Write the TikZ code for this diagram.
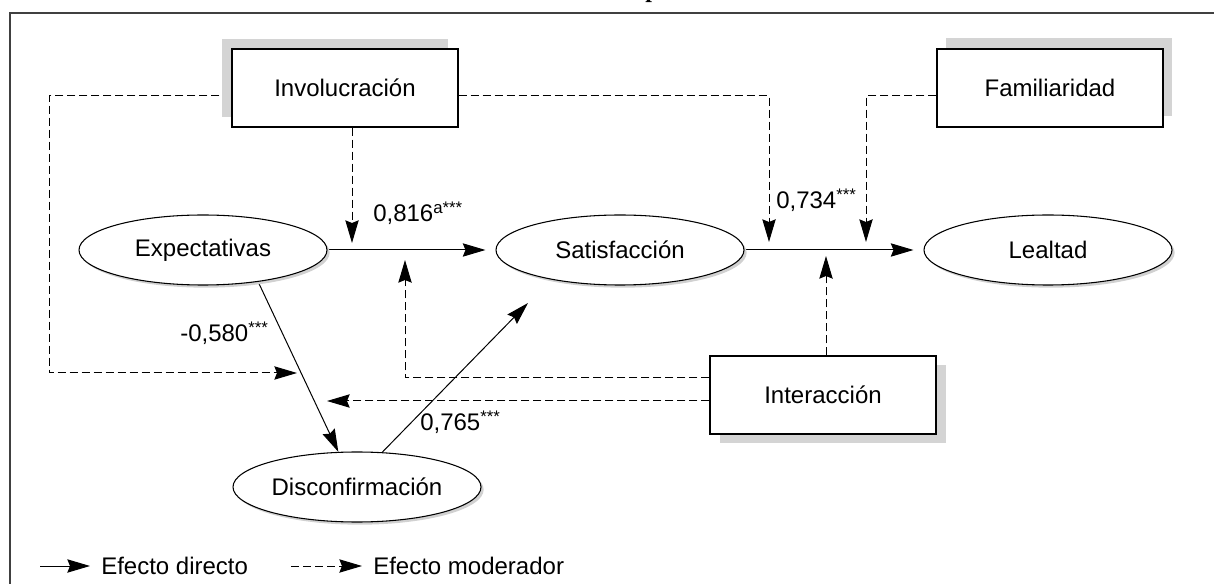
\documentclass[tikz,border=0pt]{standalone}
\usepackage{fontspec}
\setmainfont{Liberation Sans}
\newfontfamily\titlefont{Liberation Serif}
\usetikzlibrary{arrows.meta,shapes.geometric,shadows,backgrounds}

\begin{document}
\begin{tikzpicture}[x=0.75pt, y=-0.75pt,
    every node/.style={font=\fontsize{18}{21}\selectfont},
    box/.style={draw, line width=0.9pt, fill=white, minimum width=169.5pt, minimum height=58.5pt, inner sep=0pt},
    var/.style={ellipse, draw, line width=0.8pt, fill=white, minimum width=186pt, minimum height=52.5pt, inner sep=0pt,
        drop shadow={shadow xshift=2pt, shadow yshift=-2pt, fill=black!18, opacity=1}},
    direct/.style={line width=0.75pt, -{Stealth[length=17pt, width=10pt, inset=2pt]}},
    moder/.style={direct, dash pattern=on 6pt off 3pt},
    coef/.style={anchor=base west, inner sep=0pt}]
    \useasboundingbox (0,0) rectangle (1214,584);

    % marco
    \draw [black!75, line width=1.1pt] (10,584) -- (10,13) -- (1214,13);
    \node [anchor=base west, inner sep=0pt, font=\titlefont\bfseries\fontsize{18}{21}\selectfont] (title) at (645,-2){p};

    % moderadores
    \node [box, drop shadow={shadow xshift=-7.5pt, shadow yshift=7.5pt, fill=black!17, opacity=1}] (inv) at (345,88){Involucración};
    \node [box, drop shadow={shadow xshift=6.75pt, shadow yshift=8.25pt, fill=black!17, opacity=1}] (fam) at (1050,88){Familiaridad};
    \node [box, drop shadow={shadow xshift=7.5pt, shadow yshift=-7pt, fill=black!17, opacity=1}] (inter) at (823,395){Interacción};

    % variables
    \node [var] (exp) at (203,250){Expectativas};
    \node [var] (sat) at (620,250){Satisfacción};
    \node [var] (leal) at (1048,250){Lealtad};
    \node [var] (dis) at (357,487){Disconfirmación};

    \coordinate (m1) at (352,243);
    \coordinate (m2) at (769,242);
    \coordinate (m3) at (866,242);
    \coordinate (m4) at (826,256);
    \coordinate (m5) at (297,373);
    \coordinate (m6) at (405,260);
    \coordinate (m7) at (327,401);
    \coordinate (tipsat) at (528,303);

    \begin{scope}[on background layer]
        % efectos directos
        \draw [direct, shorten >=7.5pt] (exp.east) -- (sat.west);
        \draw [direct, shorten >=7.5pt] (sat.east) -- (leal.west);
        \draw [direct] (exp.330) -- (dis.118);
        \draw [direct] (dis.54) -- (tipsat);

        % efectos moderadores
        \draw [moder] (inv.south -| m1) -- (m1);
        \draw [moder] ([yshift=-6pt]inv.west) -- (49,96) |- (m5);
        \draw [moder] ([yshift=-6pt]inv.east) -| (m2);
        \draw [moder] ([yshift=-6pt]fam.west) -| (m3);
        \draw [moder] (inter.north -| m4) -- (m4);
        \draw [moder] ([yshift=12.75pt]inter.west) -| (m6);
        \draw [moder] ([yshift=-4.5pt]inter.west) -- (m7);
    \end{scope}

    % coeficientes
    \node [coef] (c1) at (373,222){0,816\textsuperscript{a***}};
    \node [coef] (c2) at (776,209){0,734\textsuperscript{***}};
    \node [coef] (c3) at (180,342){-0,580\textsuperscript{***}};
    \node [coef] (c4) at (420,431){0,765\textsuperscript{***}};

    % leyenda
    \coordinate (l1) at (40,566);
    \coordinate (l2) at (291,566);
    \node [coef] (leg1) at (101,574){Efecto directo};
    \node [coef] (leg2) at (373,574){Efecto moderador};
    \draw [direct, shorten >=8.25pt] (l1) -- (l1 -| leg1.west);
    \draw [moder, shorten >=8.25pt] (l2) -- (l2 -| leg2.west);
\end{tikzpicture}
\end{document}
